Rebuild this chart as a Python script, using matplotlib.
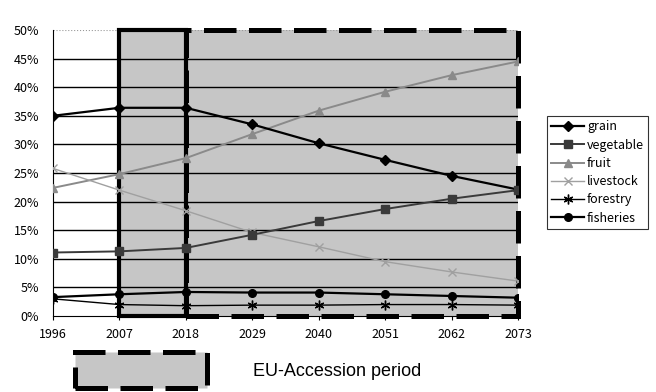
import numpy as np
import matplotlib.pyplot as plt
from matplotlib.patches import Rectangle
from matplotlib.ticker import FuncFormatter

# 年次と各部門の構成比（%）
years = [1996, 2007, 2018, 2029, 2040, 2051, 2062, 2073]
grain = [35.0, 36.4, 36.4, 33.5, 30.2, 27.3, 24.5, 22.1]
vegetable = [11.1, 11.3, 11.9, 14.2, 16.6, 18.7, 20.5, 22.0]
fruit = [22.4, 24.8, 27.6, 31.8, 35.9, 39.2, 42.1, 44.5]
livestock = [25.8, 22.0, 18.4, 14.6, 12.1, 9.5, 7.7, 6.1]
forestry = [3.0, 2.0, 1.8, 1.9, 1.9, 2.0, 2.0, 1.9]
fisheries = [3.3, 3.8, 4.2, 4.1, 4.1, 3.8, 3.5, 3.2]

accession_start, accession_end = 2007, 2018

plt.rcParams['font.family'] = ['Noto Sans CJK JP', 'DejaVu Sans']

fig = plt.figure(figsize=(6.56, 3.92), dpi=100)
ax = fig.add_axes([53 / 656, 1 - 316 / 392, 465 / 656, 286 / 392])

shade = '#c6c6c6'
dash = (0, (6.5, 2.5))
ax.axvspan(years[1], years[-1], color=shade, zorder=0.5, lw=0)

# 横グリッド
for v in range(5, 50, 5):
    ax.axhline(v, color='black', lw=1.0, zorder=1)
ax.axhline(50, color='#999999', lw=0.8, ls=':', zorder=1)

# 加盟期間の枠（実線）と加盟後の枠（破線）
solid_box = Rectangle((accession_start, 0), accession_end - accession_start, 50,
                      fill=False, ec='black', lw=3.0, zorder=2, clip_on=False)
ax.add_patch(solid_box)
dash_box = Rectangle((accession_end, 0), years[-1] - accession_end, 50,
                     fill=False, ec='black', lw=3.6, ls=dash,
                     zorder=2, clip_on=False)
ax.add_patch(dash_box)

ax.plot(years, grain, color='black', lw=1.6, marker='D', ms=5, label='grain', zorder=4)
ax.plot(years, vegetable, color='#3a3a3a', lw=1.4, marker='s', ms=6,
        label='vegetable', zorder=4)
ax.plot(years, fruit, color='#8a8a8a', lw=1.4, marker='^', ms=6,
        label='fruit', zorder=3)
ax.plot(years, livestock, color='#a0a0a0', lw=1.0, marker='x', ms=6,
        label='livestock', zorder=3)
ax.plot(years, forestry, color='black', lw=1.0, marker=(6, 2, 0), ms=7,
        label='forestry', zorder=4)
ax.plot(years, fisheries, color='black', lw=1.6, marker='o', ms=5.5,
        label='fisheries', zorder=4)

ax.set_xlim(years[0], years[-1])
ax.set_ylim(0, 50)
ax.set_xticks(years)
ax.set_yticks(range(0, 55, 5))
ax.yaxis.set_major_formatter(FuncFormatter(lambda v, p: f'{v:.0f}%'))
ax.tick_params(axis='x', length=3, width=0.8, labelsize=9, pad=6)
ax.tick_params(axis='y', length=0, labelsize=9, pad=10)
ax.spines['top'].set_visible(False)
ax.spines['right'].set_visible(False)
ax.spines['left'].set_linewidth(0.8)
ax.spines['bottom'].set_linewidth(0.8)

leg = fig.legend(loc='upper left', bbox_to_anchor=(547 / 656, 1 - 116 / 392),
                 fontsize=9, frameon=True, fancybox=False, edgecolor='black',
                 handlelength=2.6, handletextpad=0.25, labelspacing=0.42,
                 borderpad=0.35, borderaxespad=0)
leg.get_frame().set_linewidth(0.8)

# 凡例：加盟後期間を示す枠
fig.patches.append(Rectangle((75 / 656, 1 - 388 / 392), 132 / 656, 36 / 392,
                             transform=fig.transFigure, fc=shade, ec='black',
                             lw=3.6, ls=dash, figure=fig))
fig.text(253 / 656, 1 - 371 / 392, 'EU-Accession period', fontsize=13,
         family='Liberation Sans', va='center', ha='left')

fig.savefig('out.png', dpi=100)
